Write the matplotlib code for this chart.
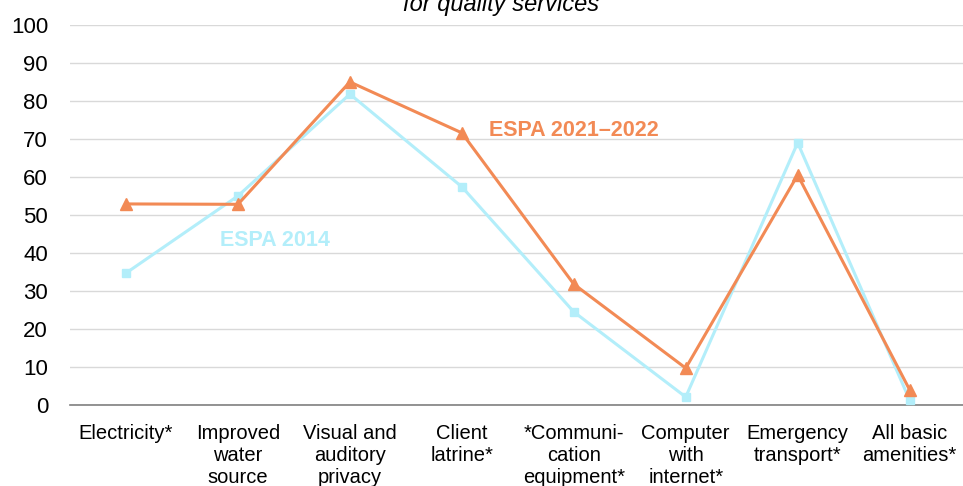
import numpy as np
import matplotlib
matplotlib.use("Agg")
from matplotlib import pyplot as plt

# データ
categories = ["Electricity*", "Improved\nwater\nsource", "Visual and\nauditory\nprivacy",
              "Client\nlatrine*", "*Communi-\ncation\nequipment*", "Computer\nwith\ninternet*",
              "Emergency\ntransport*", "All basic\namenities*"]
espa_2014 = [34.7, 55.0, 81.8, 57.4, 24.5, 2.1, 69.0, 1.3]
espa_2021 = [52.9, 52.8, 85.0, 71.6, 31.8, 9.7, 60.5, 4.0]
yticks = list(range(0, 101, 10))

# フォント設定
plt.rcParams['font.family'] = ['Liberation Sans', 'DejaVu Sans']

orange = '#F28A55'
blue = '#B3EEFA'

fig = plt.figure(figsize=(9.63, 4.86), dpi=100)
ax = fig.add_axes([0.0727, 0.1667, 0.93, 0.782])

x = np.arange(len(categories))
ax.plot(x, espa_2014, color=blue, lw=2.2, marker='s', ms=6, zorder=3)
ax.plot(x, espa_2021, color=orange, lw=2.2, marker='^', ms=8, zorder=4)

ax.set_xlim(-0.5, len(categories) - 0.5)
ax.set_ylim(0, 100)
ax.set_yticks(yticks)
ax.set_xticks(x)
ax.set_xticklabels(categories, fontsize=14.5, linespacing=1.2)
ax.tick_params(axis='y', labelsize=16, length=0, pad=15.8)
ax.tick_params(axis='x', length=0, pad=13.5)

ax.grid(axis='y', color='#D9D9D9', lw=1.0)
ax.set_axisbelow(True)
for s in ['left', 'right', 'top']:
    ax.spines[s].set_visible(False)
ax.spines['bottom'].set_color('#808080')
ax.spines['bottom'].set_linewidth(1.2)

# 系列ラベル
ax.text(0.84, 43.2, 'ESPA 2014', color=blue, fontsize=15.5, fontweight='bold', va='center')
ax.text(3.24, 72.1, 'ESPA 2021\u20132022', color=orange, fontsize=15.5, fontweight='bold', va='center')

# タイトル（上部で切れている）
fig.text(0.52, 0.977, 'for quality services', fontsize=17, style='italic',
         ha='center', va='baseline')

fig.savefig('out.png', dpi=100)
plt.close()
